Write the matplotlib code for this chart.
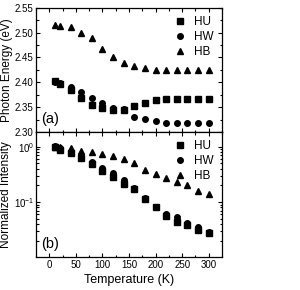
import numpy as np
import matplotlib
matplotlib.use("Agg")
import matplotlib.pyplot as plt
from matplotlib.ticker import MultipleLocator, LogLocator, NullFormatter

plt.rcParams["font.family"] = ["Liberation Sans", "DejaVu Sans"]

temps = [10, 20, 40, 60, 80, 100, 120, 140, 160, 180, 200, 220, 240, 260, 280, 300]

# (a) peak photon energy (eV)
hu_energy = [2.402, 2.396, 2.385, 2.368, 2.354, 2.348, 2.344, 2.345, 2.353,
             2.359, 2.364, 2.366, 2.367, 2.367, 2.367, 2.367]
hw_energy = [2.401, 2.398, 2.390, 2.381, 2.368, 2.358, 2.348, 2.346, 2.331,
             2.326, 2.323, 2.319, 2.319, 2.318, 2.319, 2.319]
hb_energy = [2.516, 2.514, 2.511, 2.499, 2.489, 2.467, 2.450, 2.438, 2.432,
             2.428, 2.424, 2.424, 2.424, 2.424, 2.424, 2.424]

# (b) normalized intensity
hu_int = [1.0, 0.87, 0.76, 0.63, 0.48, 0.37, 0.28, 0.21, 0.17, 0.115,
          0.080, 0.055, 0.043, 0.038, 0.031, 0.028]
hw_int = [1.02, 0.93, 0.82, 0.70, 0.53, 0.42, 0.33, 0.25, 0.18, 0.12,
          0.083, 0.062, 0.053, 0.042, 0.035, 0.029]
hb_int = [1.0, 0.97, 0.95, 0.85, 0.80, 0.75, 0.67, 0.60, 0.51, 0.38,
          0.32, 0.27, 0.23, 0.20, 0.16, 0.14]

labels = ["HU", "HW", "HB"]

fig = plt.figure(figsize=(3.0, 2.9), dpi=100)
ax1 = fig.add_axes([0.12, 0.545, 0.62, 0.428])
ax2 = fig.add_axes([0.12, 0.114, 0.62, 0.431])

ms = 4
for ax, series in ((ax1, (hu_energy, hw_energy, hb_energy)),
                   (ax2, (hu_int, hw_int, hb_int))):
    ax.plot(temps, series[0], "ks", ms=ms - 0.3, ls="none", label=labels[0])
    ax.plot(temps, series[1], "ko", ms=ms, ls="none", label=labels[1])
    ax.plot(temps, series[2], "k^", ms=ms + 0.5, ls="none", label=labels[2])
    ax.set_xlim(-25, 325)
    ax.xaxis.set_major_locator(MultipleLocator(50))
    ax.xaxis.set_minor_locator(MultipleLocator(25))
    ax.tick_params(which="both", direction="in", top=True, right=True,
                   labelsize=7, width=0.8, pad=2)
    ax.tick_params(which="major", length=3)
    ax.tick_params(which="minor", length=1.8)
    for s in ax.spines.values():
        s.set_linewidth(0.9)
    ax.legend(loc="upper right", frameon=False, fontsize=8.5,
              handletextpad=0.6, labelspacing=0.25, borderaxespad=0.3,
              handlelength=1.2)

ax1.set_ylim(2.30, 2.55)
ax1.yaxis.set_major_locator(MultipleLocator(0.05))
ax1.yaxis.set_minor_locator(MultipleLocator(0.025))
ax1.yaxis.set_major_formatter(matplotlib.ticker.FormatStrFormatter("%.2f"))
ax1.tick_params(labelbottom=False)
ax1.set_ylabel("Photon Energy (eV)", fontsize=8.5)
ax1.yaxis.set_label_coords(-0.122, 0.5)
ax1.text(0.03, 0.07, "(a)", transform=ax1.transAxes, fontsize=10.5)

ax2.set_yscale("log")
ax2.set_ylim(0.0102, 1.85)
ax2.yaxis.set_major_locator(LogLocator(base=10, numticks=5))
ax2.yaxis.set_minor_locator(LogLocator(base=10, subs=np.arange(2, 10), numticks=20))
ax2.yaxis.set_minor_formatter(NullFormatter())
ax2.tick_params(axis="y", which="major", pad=1.2)
ax2.set_ylabel("Normalized Intensity", fontsize=8.5)
ax2.yaxis.set_label_coords(-0.128, 0.5)
ax2.set_xlabel("Temperature (K)", fontsize=9, labelpad=3)
ax2.text(0.03, 0.07, "(b)", transform=ax2.transAxes, fontsize=10.5)

fig.savefig("out.png", dpi=100)
